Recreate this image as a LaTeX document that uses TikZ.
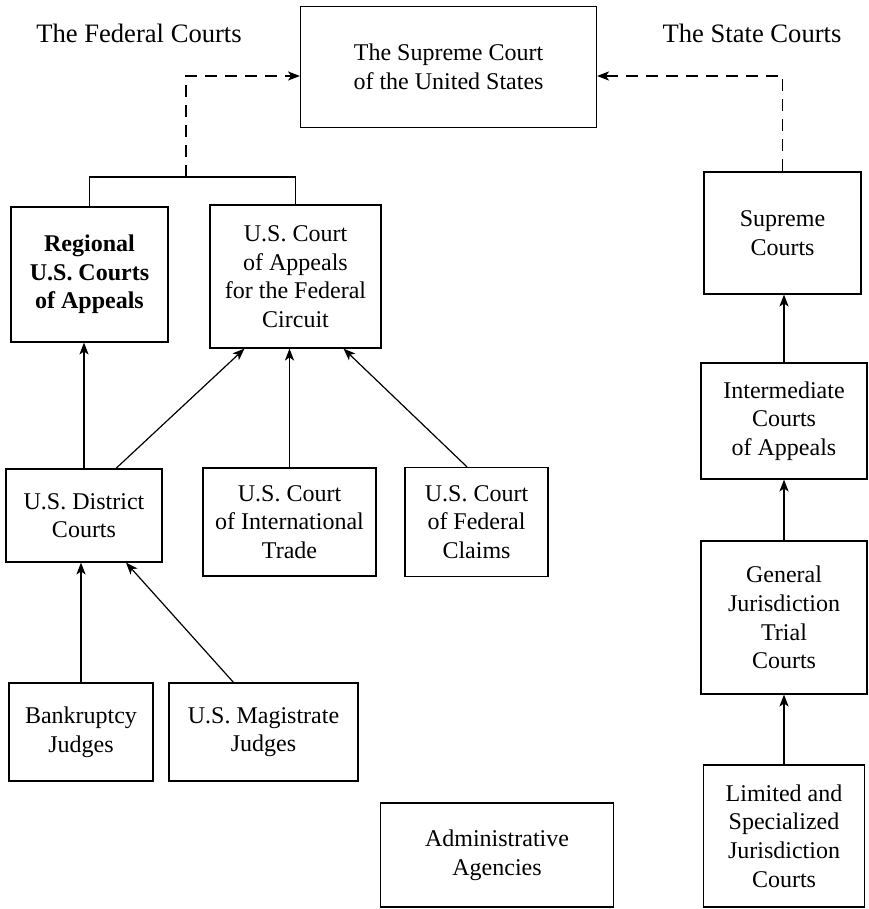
\documentclass[tikz,border=0pt]{standalone}
\usepackage{fontspec}
\setmainfont{Liberation Serif}
\usepackage{tikz}
\usetikzlibrary{arrows.meta}
\usetikzlibrary{positioning}

\begin{document}
\begin{tikzpicture}[
        x=0.5pt, y=-0.5pt, line width=0.6pt, >={Stealth[length=6pt, width=4.6pt, inset=1.6pt]},
        court/.style={rectangle, draw=black, align=center, inner sep=2pt, font=\fontsize{12}{14.3}\selectfont},
        title/.style={font=\fontsize{13.3}{16}\selectfont},
        link/.style={dash pattern=on 6pt off 4pt}
      ]
        \useasboundingbox (0, 0) rectangle (868, 909);

        \node[title]  (fedtitle)    at (139, 33)  {The Federal Courts};
        \node[title]  (statetitle)  at (752, 33)  {The State Courts};

        \node[court]  (supreme)     [minimum width=148pt, minimum height=60.5pt] at (448.5, 67)  {The Supreme Court\\of the United States};

        % federal side
        \node[court]  (regional)    [minimum width=78.5pt, minimum height=67.5pt, font=\fontsize{12}{14.3}\selectfont\bfseries] at (89.5, 274.5)  {Regional\\U.S. Courts\\of Appeals};
        \node[court]  (circuit)     [minimum width=85.5pt, minimum height=71.5pt] at (295.5, 276.5)  {U.S. Court\\of Appeals\\for the Federal\\Circuit};
        \node[court]  (district)    [minimum width=78pt, minimum height=46.5pt] at (84, 515.5)  {U.S. District\\Courts};
        \node[court]  (trade)       [minimum width=86.5pt, minimum height=54pt] at (289.5, 522)  {U.S. Court\\of International\\Trade};
        \node[court]  (claims)      [right of=trade, node distance=93.5pt, minimum width=71.5pt, minimum height=54.5pt]  {U.S. Court\\of Federal\\Claims};
        \node[court]  (bankruptcy)  [minimum width=72pt, minimum height=49pt] at (81, 732)  {Bankruptcy\\Judges};
        \node[court]  (magistrate)  [right of=bankruptcy, node distance=91.25pt, minimum width=94.5pt, minimum height=49pt]  {U.S. Magistrate\\Judges};
        \node[court]  (agencies)    [minimum width=116.5pt, minimum height=52pt] at (497, 855)  {Administrative\\Agencies};

        % state side
        \node[court]  (statesup)    [minimum width=78.5pt, minimum height=61pt] at (782.5, 233)  {Supreme\\Courts};
        \node[court]  (intermediate) [minimum width=83pt, minimum height=58pt] at (784, 421)  {Intermediate\\Courts\\of Appeals};
        \node[court]  (general)     [below of=intermediate, node distance=98.25pt, minimum width=83pt, minimum height=76.5pt]  {General\\Jurisdiction\\Trial\\Courts};
        \node[court]  (limited)     [below of=general, node distance=109.25pt, minimum width=80.5pt, minimum height=71pt]  {Limited and\\Specialized\\Jurisdiction\\Courts};

        \coordinate (fedjoin) at (186, 177);

        \draw (regional.north) |- (fedjoin) -| (circuit.north);
        \draw[link, ->]  (fedjoin) |- ([yshift=-4.5pt]supreme.west);
        \draw[link, ->]  (statesup.north) |- ([yshift=-4.5pt]supreme.east);

        \draw[->]  (district.north) -- (district.north |- regional.south);
        \draw[->]  ([xshift=16pt]district.north) -- ([xshift=-25.5pt]circuit.south);
        \draw[->]  (trade.north) -- (trade.north |- circuit.south);
        \draw[->]  ([xshift=-4.75pt]claims.north) -- ([xshift=24pt]circuit.south);
        \draw[->]  (bankruptcy.north) -- (bankruptcy.north |- district.south);
        \draw[->]  ([xshift=-15pt]magistrate.north) -- ([xshift=21pt]district.south);

        \draw[->]  (intermediate.north) -- (intermediate.north |- statesup.south);
        \draw[->]  (general.north) -- (intermediate.south);
        \draw[->]  (limited.north) -- (general.south);
      \end{tikzpicture}
\end{document}
